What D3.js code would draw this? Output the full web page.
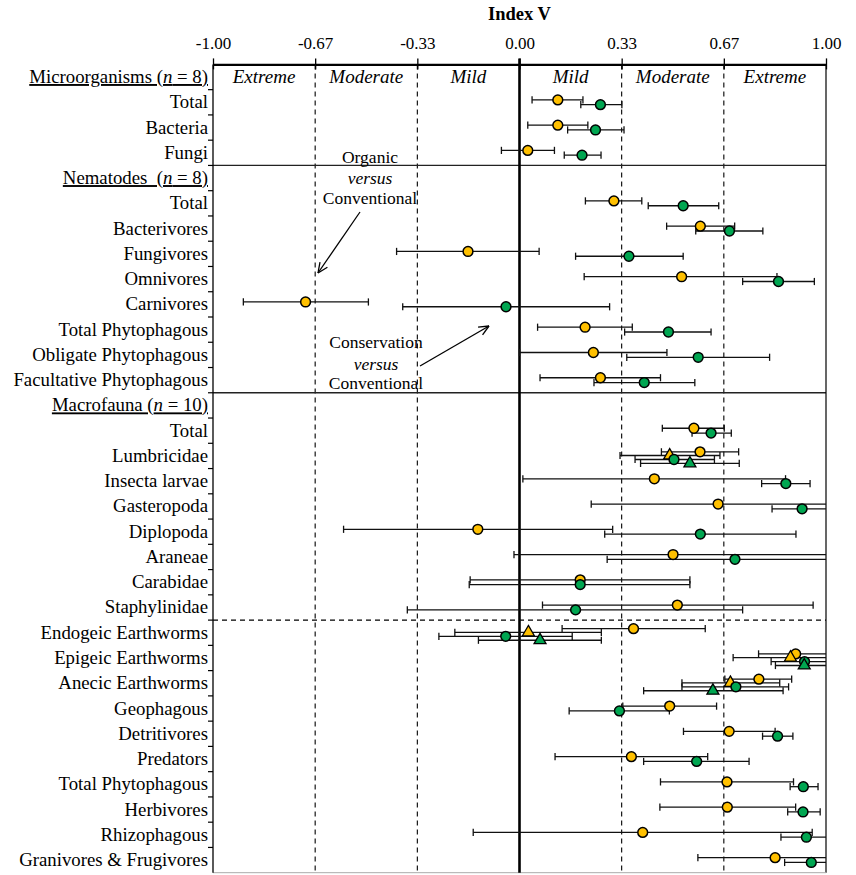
<!DOCTYPE html>
<html>
<head>
<meta charset="utf-8">
<script src="https://cdn.jsdelivr.net/npm/d3@7"></script>
<style>
body { margin: 0; background: #fff; }
svg { display: block; }
text { font-family: "Liberation Serif", "Times New Roman", serif; }
</style>
</head>
<body>
<svg id="chart" width="856" height="875"></svg>
<script>
// ---------------- DATA ----------------
const rowLabels = [
  "Microorganisms (n = 8)", "Total", "Bacteria", "Fungi",
  "Nematodes  (n = 8)", "Total", "Bacterivores", "Fungivores", "Omnivores", "Carnivores",
  "Total Phytophagous", "Obligate Phytophagous", "Facultative Phytophagous",
  "Macrofauna (n = 10)", "Total", "Lumbricidae", "Insecta larvae", "Gasteropoda", "Diplopoda",
  "Araneae", "Carabidae", "Staphylinidae",
  "Endogeic Earthworms", "Epigeic Earthworms", "Anecic Earthworms", "Geophagous", "Detritivores",
  "Predators", "Total Phytophagous", "Herbivores", "Rhizophagous", "Granivores & Frugivores"
];
// header rows: [row index, group name, n]
const headerRows = [[0, "Microorganisms", "8"], [4, "Nematodes", "8"], [13, "Macrofauna", "10"]];

// Organic versus Conventional (orange circles)
const orangeMean = [null, 0.125, 0.125, 0.027, null, 0.308, 0.590, -0.168, 0.529, -0.698, 0.214, 0.241, 0.264,
  null, 0.569, 0.589, 0.440, 0.648, -0.136, 0.501, 0.198, 0.515, 0.372, 0.901, 0.781, 0.490, 0.684, 0.365, 0.677, 0.678, 0.402, 0.834];
const orangeLo = [null, 0.041, 0.027, -0.059, null, 0.215, 0.480, -0.401, 0.211, -0.901, 0.059, 0.000, 0.067,
  null, 0.466, 0.463, 0.011, 0.234, -0.574, -0.018, -0.161, 0.075, 0.139, 0.780, 0.670, 0.337, 0.535, 0.116, 0.460, 0.458, -0.151, 0.582];
const orangeHi = [null, 0.207, 0.223, 0.114, null, 0.399, 0.702, 0.064, 0.840, -0.493, 0.368, 0.481, 0.460,
  null, 0.668, 0.715, 0.868, 1.000, 0.304, 1.000, 0.556, 0.958, 0.606, 1.000, 0.888, 0.643, 0.834, 0.614, 0.894, 0.901, 0.955, 1.000];

// Conservation versus Conventional (green circles)
const greenMean = [null, 0.264, 0.248, 0.204, null, 0.534, 0.685, 0.357, 0.845, -0.044, 0.486, 0.583, 0.407,
  null, 0.625, 0.504, 0.869, 0.922, 0.590, 0.703, 0.198, 0.183, -0.045, 0.930, 0.706, 0.326, 0.842, 0.578, 0.926, 0.925, 0.936, 0.952];
const greenLo = [null, 0.200, 0.157, 0.146, null, 0.420, 0.575, 0.183, 0.728, -0.381, 0.343, 0.350, 0.243,
  null, 0.563, 0.377, 0.790, 0.824, 0.278, 0.286, -0.164, -0.366, -0.263, 0.821, 0.530, 0.162, 0.793, 0.405, 0.883, 0.875, 0.853, 0.865];
const greenHi = [null, 0.334, 0.341, 0.266, null, 0.650, 0.794, 0.534, 0.962, 0.294, 0.625, 0.816, 0.572,
  null, 0.691, 0.636, 0.948, 1.000, 0.902, 1.000, 0.556, 0.728, 0.172, 1.000, 0.878, 0.489, 0.892, 0.749, 0.974, 0.981, 1.000, 1.000];

// Earthworm-specific triangles (rows: Lumbricidae, Endogeic, Epigeic, Anecic)
const triRows = ["Lumbricidae", "Endogeic Earthworms", "Epigeic Earthworms", "Anecic Earthworms"];
const orangeTriMean = [0.490, 0.029, 0.884, 0.688];
const orangeTriLo = [0.328, -0.211, 0.697, 0.530];
const orangeTriHi = [0.654, 0.267, 1.000, 0.849];
const greenTriMean = [0.556, 0.067, 0.929, 0.631];
const greenTriLo = [0.395, -0.134, 0.835, 0.405];
const greenTriHi = [0.717, 0.267, 1.000, 0.860];

const tickValues = [-1, -2/3, -1/3, 0, 1/3, 2/3, 1];
const tickLabels = ["-1.00", "-0.67", "-0.33", "0.00", "0.33", "0.67", "1.00"];
const zoneLabels = ["Extreme", "Moderate", "Mild", "Mild", "Moderate", "Extreme"];

// ---------------- CHART ----------------
(function () {
const svg = d3.select("#chart");
const pL = 213, pR = 826, pT = 64.4, pB = 872.7;
const ORANGE = "#FFC000", GREEN = "#00A651";
const LABEL_FS = 18.8;

const x = d3.scaleLinear().domain([-1, 1]).range([pL, pR]);
const y = d3.scaleBand().domain(d3.range(rowLabels.length)).range([pT, pB]).padding(0);
const bw = y.bandwidth();
const yc = i => y(i) + bw / 2;

// dashed vertical grid lines
svg.append("g").selectAll("line")
  .data([-2/3, -1/3, 1/3, 2/3]).join("line")
  .attr("x1", d => x(d)).attr("x2", d => x(d))
  .attr("y1", pT).attr("y2", pB)
  .attr("stroke", "#000").attr("stroke-width", 1.1).attr("stroke-dasharray", "5,4");

// group separators
[4, 13].forEach(i => {
  svg.append("line").attr("x1", pL).attr("x2", pR).attr("y1", y(i)).attr("y2", y(i))
    .attr("stroke", "#222").attr("stroke-width", 1.3);
});
svg.append("line").attr("x1", pL).attr("x2", pR).attr("y1", y(22)).attr("y2", y(22))
  .attr("stroke", "#000").attr("stroke-width", 1.1).attr("stroke-dasharray", "5,4");

// right border & bottom
svg.append("line").attr("x1", pR).attr("x2", pR).attr("y1", pT).attr("y2", pB)
  .attr("stroke", "#000").attr("stroke-width", 1.2);
svg.append("line").attr("x1", pL).attr("x2", pR).attr("y1", pB).attr("y2", pB)
  .attr("stroke", "#aaa").attr("stroke-width", 1);

// zero line
svg.append("line").attr("x1", x(0)).attr("x2", x(0)).attr("y1", pT - 6).attr("y2", pB)
  .attr("stroke", "#000").attr("stroke-width", 2.6);

// top axis
const axTop = svg.append("g").attr("transform", `translate(0,${pT})`)
  .call(d3.axisTop(x).tickValues(tickValues).tickFormat((d, i) => tickLabels[i]).tickSizeInner(6).tickSizeOuter(0).tickPadding(9));
axTop.select(".domain").attr("stroke", "#000").attr("stroke-width", 2.2);
axTop.selectAll(".tick line").attr("stroke", "#000").attr("stroke-width", 1.3).attr("y2", -6).attr("y1", 5);
axTop.selectAll(".tick text").attr("font-family", "'Liberation Sans', Arial, sans-serif").attr("font-size", 17).attr("fill", "#000");

svg.append("text").attr("x", x(0)).attr("y", 20).attr("text-anchor", "middle")
  .attr("font-weight", "bold").attr("font-size", 18.5).text("Index V");

// zone labels
const zoneCenters = d3.range(6).map(i => -1 + (i + 0.5) / 3);
svg.append("g").selectAll("text").data(zoneLabels).join("text")
  .attr("x", (d, i) => x(zoneCenters[i])).attr("y", yc(0) + 6)
  .attr("text-anchor", "middle").attr("font-style", "italic").attr("font-size", 19).text(d => d);

// left axis
svg.append("line").attr("x1", pL).attr("x2", pL).attr("y1", pT).attr("y2", pB)
  .attr("stroke", "#000").attr("stroke-width", 1.3);
svg.append("g").selectAll("line").data(d3.range(1, rowLabels.length)).join("line")
  .attr("x1", pL - 5).attr("x2", pL).attr("y1", d => y(d)).attr("y2", d => y(d))
  .attr("stroke", "#000").attr("stroke-width", 1.2);

const headerIdx = headerRows.map(h => h[0]);
const labG = svg.append("g");
rowLabels.forEach((lab, i) => {
  if (headerIdx.includes(i)) return;
  labG.append("text").attr("x", pL - 5).attr("y", yc(i) + 6).attr("text-anchor", "end")
    .attr("font-size", LABEL_FS).text(lab);
});
headerRows.forEach(([i, name, n]) => {
  const t = labG.append("text").attr("x", pL - 5).attr("y", yc(i) + 6).attr("text-anchor", "end")
    .attr("font-size", LABEL_FS).style("text-decoration", "underline").style("white-space", "pre");
  t.append("tspan").text(name + (name === "Nematodes" ? "  (" : " ("));
  t.append("tspan").attr("font-style", "italic").text("n");
  t.append("tspan").text(" = " + n + ")");
});

// series construction
function makeSeries(means, los, his) {
  return means.map((m, i) => m === null ? null : { i, m, lo: los[i], hi: his[i] }).filter(d => d);
}
const triIdx = triRows.map(r => rowLabels.indexOf(r));
const hasTri = new Set(triIdx);
const orangeC = makeSeries(orangeMean, orangeLo, orangeHi).map(d => ({ ...d, dy: hasTri.has(d.i) ? -4.1 : -2.4 }));
const greenC = makeSeries(greenMean, greenLo, greenHi).map(d => ({ ...d, dy: hasTri.has(d.i) ? 3.6 : 2.4 }));
const orangeT = triIdx.map((i, k) => ({ i, m: orangeTriMean[k], lo: orangeTriLo[k], hi: orangeTriHi[k], dy: -0.4 }));
const greenT = triIdx.map((i, k) => ({ i, m: greenTriMean[k], lo: greenTriLo[k], hi: greenTriHi[k], dy: 7.5 }));

function drawErr(g, data) {
  g.selectAll("line.bar").data(data).join("line").attr("class", "bar")
    .attr("x1", d => x(d.lo)).attr("x2", d => x(Math.min(d.hi, 1)))
    .attr("y1", d => yc(d.i) + d.dy).attr("y2", d => yc(d.i) + d.dy)
    .attr("stroke", "#111").attr("stroke-width", 1.3);
  const caps = [];
  data.forEach(d => {
    if (d.lo > -1) caps.push({ v: d.lo, yy: yc(d.i) + d.dy });
    if (d.hi < 1) caps.push({ v: d.hi, yy: yc(d.i) + d.dy });
  });
  g.selectAll("line.cap").data(caps).join("line").attr("class", "cap")
    .attr("x1", d => x(d.v)).attr("x2", d => x(d.v))
    .attr("y1", d => d.yy - 3.6).attr("y2", d => d.yy + 3.6)
    .attr("stroke", "#111").attr("stroke-width", 1.3);
}
const errG = svg.append("g");
[orangeC, greenC, orangeT, greenT].forEach(s => drawErr(errG.append("g"), s));

function drawCircles(data, fill) {
  svg.append("g").selectAll("circle").data(data).join("circle")
    .attr("cx", d => x(d.m)).attr("cy", d => yc(d.i) + d.dy).attr("r", 4.9)
    .attr("fill", fill).attr("stroke", "#000").attr("stroke-width", 1.5);
}
function drawTris(data, fill) {
  const sym = d3.symbol().type(d3.symbolTriangle).size(62);
  svg.append("g").selectAll("path").data(data).join("path")
    .attr("d", sym).attr("transform", d => `translate(${x(d.m)},${yc(d.i) + d.dy})`)
    .attr("fill", fill).attr("stroke", "#000").attr("stroke-width", 1.3);
}
drawCircles(orangeC, ORANGE);
drawTris(orangeT, ORANGE);
drawCircles(greenC, GREEN);
drawTris(greenT, GREEN);

// annotations
function annot(cx, ys, words) {
  words.forEach((w, k) => {
    svg.append("text").attr("x", cx).attr("y", ys[k]).attr("text-anchor", "middle")
      .attr("font-size", 17.5).attr("font-style", k === 1 ? "italic" : "normal").text(w);
  });
}
annot(370, [163, 184, 204], ["Organic", "versus", "Conventional"]);
annot(376, [348, 370, 389], ["Conservation", "versus", "Conventional"]);

function arrow(x1, y1, x2, y2) {
  svg.append("line").attr("x1", x1).attr("y1", y1).attr("x2", x2).attr("y2", y2)
    .attr("stroke", "#000").attr("stroke-width", 1.3);
  const a = Math.atan2(y2 - y1, x2 - x1), len = 11, sp = 0.42;
  [a + Math.PI - sp, a + Math.PI + sp].forEach(b => {
    svg.append("line").attr("x1", x2).attr("y1", y2)
      .attr("x2", x2 + len * Math.cos(b)).attr("y2", y2 + len * Math.sin(b))
      .attr("stroke", "#000").attr("stroke-width", 1.3);
  });
}
arrow(360, 212, 318, 273);
arrow(420, 366, 489, 326);
})();
</script>
</body>
</html>
